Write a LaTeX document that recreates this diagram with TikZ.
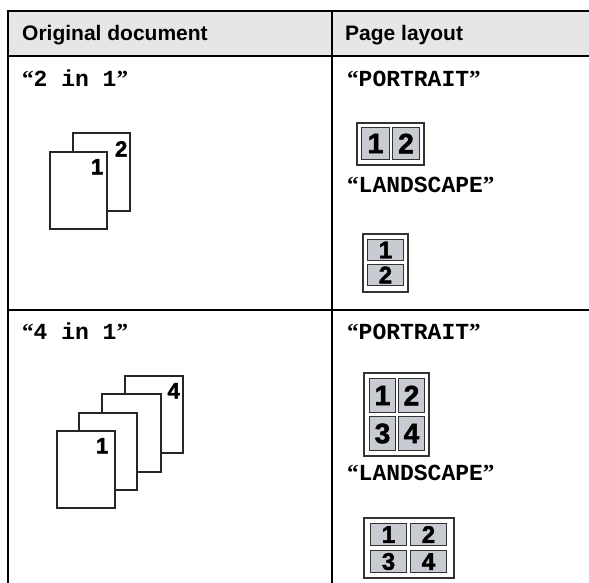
\documentclass[tikz,border=0pt]{standalone}
\usepackage{fontspec}
\setmainfont{Liberation Sans}
\newfontfamily\monofam{Liberation Mono}
\newfontfamily\quotefam{Liberation Serif}
\newfontfamily\heavyfam{Liberation Sans}[BoldFeatures={FakeBold=2}]
\definecolor{hdrgray}{HTML}{E6E6E6}
\definecolor{cellgray}{HTML}{C9CBD2}
\newcommand{\qlbl}[1]{{\quotefam\bfseries “}#1{\quotefam\bfseries ”}}
\begin{document}
\begin{tikzpicture}[x=1pt,y=-1pt,
  rule/.style={line width=2pt, draw=black},
  hdrtext/.style={anchor=base west, inner sep=0pt, font=\fontsize{21}{25}\selectfont\bfseries},
  lbl/.style={anchor=base west, inner sep=0pt, font=\fontsize{23}{27}\selectfont\monofam\bfseries},
  sheet/.style={draw=black!85, line width=1.2pt, fill=white},
  sheetnum/.style={anchor=north east, inner sep=0pt, font=\fontsize{22}{22}\selectfont\heavyfam\bfseries},
  frame/.style={draw=black!80, line width=1.2pt, fill=white},
  cellbox/.style={draw=black!80, line width=1.4pt, fill=cellgray, inner sep=0pt, text=black},
  bigdigit/.style={font=\fontsize{28}{28}\selectfont\heavyfam\bfseries},
  smalldigit/.style={font=\fontsize{24}{24}\selectfont\heavyfam\bfseries}
]
\useasboundingbox (0,0) rectangle (589,583);
\fill[white] (0,0) rectangle (589,583);
% header
\fill[hdrgray] (7.7,11) rectangle (589,56);
\draw[rule] (6.7,11) -- (589,11);
\draw[rule] (7.7,56) -- (589,56);
\draw[rule] (7.7,10) -- (7.7,583);
\draw[rule] (332,10) -- (332,583);
\draw[rule] (7.7,310) -- (589,310);
\node[hdrtext] (h1) at (22,41) {Original document};
\node[hdrtext] (h2) at (345,41) {Page layout};

% row 1 labels
\node[lbl] (l21) at (22,87) {\qlbl{2 in 1}};
\node[lbl] (p1) at (347,87) {\qlbl{PORTRAIT}};
\node[lbl] (ls1) at (347,193) {\qlbl{LANDSCAPE}};

% 2 in 1 sheets
\draw[sheet] (73,133) rectangle (130,211);
\node[sheetnum] (n2) at (127.5,141) {2};
\draw[sheet] (50,152) rectangle (107,229);
\node[sheetnum] (n1) at (103.5,159) {1};

% portrait 2in1 layout
\draw[frame] (357,123) rectangle (424,165);
\node[cellbox, bigdigit, minimum width=27.6pt, minimum height=31.6pt] (c1) at (375.5,143.5) {1};
\node[cellbox, bigdigit, minimum width=26.6pt, minimum height=31.6pt] (c2) at (406,143.5) {2};

% landscape 2in1 layout
\draw[frame] (363,234) rectangle (408,292);
\node[cellbox, smalldigit, minimum width=35.6pt, minimum height=20.6pt] (d1) at (385.5,250) {1};
\node[cellbox, smalldigit, minimum width=35.6pt, minimum height=20.6pt] (d2) at (385.5,275) {2};

% row 2 labels
\node[lbl] (l41) at (22,339) {\qlbl{4 in 1}};
\node[lbl] (p2) at (347,339) {\qlbl{PORTRAIT}};
\node[lbl] (ls2) at (347,480) {\qlbl{LANDSCAPE}};

% 4 in 1 sheets
\draw[sheet] (125,376) rectangle (183,453);
\node[sheetnum] (n4) at (180,383) {4};
\draw[sheet] (102,394) rectangle (161,472);
\draw[sheet] (79,413) rectangle (137,490);
\draw[sheet] (57,431) rectangle (115,508);
\node[sheetnum] (n1b) at (108.5,438) {1};

% portrait 4in1 layout
\draw[frame] (364,373) rectangle (429,456);
\node[cellbox, bigdigit, minimum width=25.6pt, minimum height=33.6pt] (e1) at (382.5,395.5) {1};
\node[cellbox, bigdigit, minimum width=25.6pt, minimum height=33.6pt] (e2) at (411.5,395.5) {2};
\node[cellbox, bigdigit, minimum width=25.6pt, minimum height=33.6pt] (e3) at (382.5,433.5) {3};
\node[cellbox, bigdigit, minimum width=25.6pt, minimum height=33.6pt] (e4) at (411.5,433.5) {4};

% landscape 4in1 layout
\draw[frame] (364,518) rectangle (454,578);
\node[cellbox, smalldigit, minimum width=35.6pt, minimum height=21.6pt] (f1) at (388.5,534.5) {1};
\node[cellbox, smalldigit, minimum width=35.6pt, minimum height=21.6pt] (f2) at (428.5,534.5) {2};
\node[cellbox, smalldigit, minimum width=35.6pt, minimum height=21.6pt] (f3) at (388.5,561.5) {3};
\node[cellbox, smalldigit, minimum width=35.6pt, minimum height=21.6pt] (f4) at (428.5,561.5) {4};
\end{tikzpicture}
\end{document}
